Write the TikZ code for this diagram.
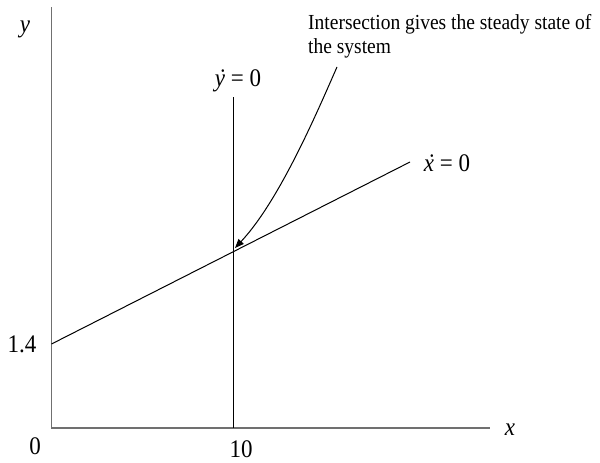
\documentclass[tikz,border=0pt]{standalone}
\usepackage{fontspec}
\usepackage{graphicx}
\setmainfont{Liberation Serif}
\usetikzlibrary{arrows.meta}
\newcommand\dotit[1]{\ooalign{\textit{#1}\cr\hidewidth\kern0.12em\textit{\char"02D9}\hidewidth\cr}}
\newcommand\tall[1]{\scalebox{1}[1.1]{#1}}
\definecolor{axisgray}{HTML}{707070}
\tikzset{
  axisline/.style={draw=axisgray, line width=1.6pt},
  curveline/.style={draw=black, line width=1pt},
  mathlbl/.style={inner sep=0pt, font=\fontsize{23}{27}\selectfont},
  annot/.style={inner sep=0pt, font=\fontsize{19.5}{24}\selectfont, align=left},
}
\begin{document}
\begin{tikzpicture}[x=1pt,y=-1pt]
\useasboundingbox (0,0) rectangle (600,463);
% axes
\coordinate (O) at (51.5,428);
\coordinate (ytop) at (51.5,7);
\coordinate (xend) at (490,428);
\draw[axisline] (ytop) -- (O) -- (xend);
% lines
\coordinate (vtop) at (233,97);
\coordinate (vbot) at (233,428);
\draw[curveline] (vtop) -- (vbot);
\coordinate (xa) at (51.5,344);
\coordinate (xb) at (410,162);
\draw[curveline] (xa) -- (xb);
% annotation arrow
\coordinate (cs) at (337,67);
\coordinate (ce) at (235,248);
\draw[curveline, -{Triangle[length=9pt,width=7pt]}] (cs) .. controls (318,110) and (280,200) .. (ce);
% labels
\node[mathlbl] (ylbl) at (25,29) {\tall{\textit{y}}};
\node[mathlbl] (xlbl) at (510,430) {\tall{\textit{x}}};
\node[mathlbl] (zero) at (35,446) {\tall{0}};
\node[mathlbl] (ten) at (241,449) {\tall{10}};
\node[mathlbl] (onefour) at (22,344) {\tall{1.4}};
\node[mathlbl] (ydot) at (238,78) {\tall{\dotit{y} = 0}};
\node[mathlbl] (xdot) at (447,163) {\tall{\dotit{x} = 0}};
\node[annot, anchor=base west] (note) at (308,53) {\tall{Intersection gives the steady state of}\\\tall{the system}};
\end{tikzpicture}
\end{document}
